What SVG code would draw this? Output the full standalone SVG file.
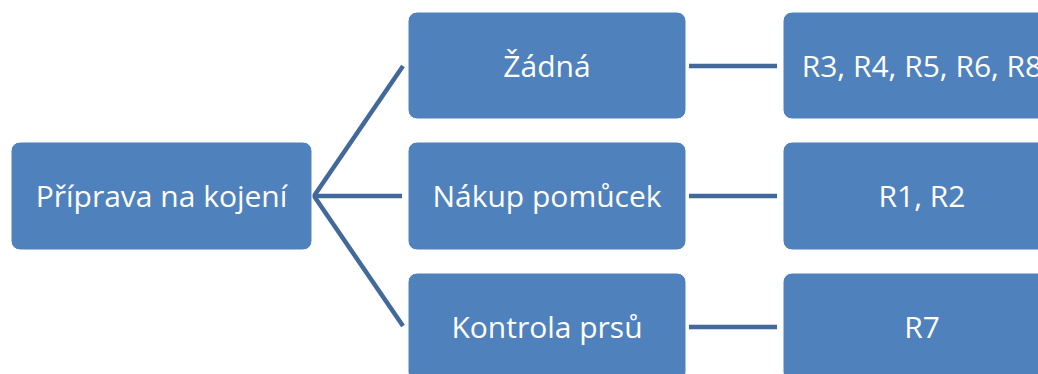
<svg xmlns="http://www.w3.org/2000/svg" width="1038" height="374" viewBox="0 0 1038 374">
  <style>
    .box { fill: #4F81BD; stroke: #FFFFFF; stroke-width: 1; }
    .lbl { fill: #FFFFFF; font-family: "Open Sans", "Noto Sans", "DejaVu Sans", sans-serif; font-size: 30px; text-anchor: middle; }
    .edge { stroke: #41699C; stroke-width: 4.5; fill: none; stroke-linecap: butt; }
  </style>
  <rect width="1038" height="374" fill="#FFFFFF"/>

  <!-- connectors -->
  <g id="connectors">
    <path class="edge" d="M403,66 L314,196 L403,326"/>
    <line class="edge" x1="314" y1="196" x2="402" y2="196"/>
    <line class="edge" x1="689" y1="66" x2="777" y2="66"/>
    <line class="edge" x1="689" y1="196" x2="777" y2="196"/>
    <line class="edge" x1="689" y1="327" x2="777" y2="327"/>
  </g>

  <!-- root -->
  <g id="root">
    <rect class="box" x="11" y="142" width="301" height="108" rx="9"/>
    <text class="lbl" x="161.5" y="207">Příprava na kojení</text>
  </g>

  <!-- second level -->
  <g id="zadna">
    <rect class="box" x="408" y="12" width="278" height="107" rx="9"/>
    <text class="lbl" x="547" y="77">Žádná</text>
  </g>
  <g id="nakup">
    <rect class="box" x="408" y="142" width="278" height="108" rx="9"/>
    <text class="lbl" x="547" y="207">Nákup pomůcek</text>
  </g>
  <g id="kontrola">
    <rect class="box" x="408" y="273" width="278" height="108" rx="9"/>
    <text class="lbl" x="547" y="338">Kontrola prsů</text>
  </g>

  <!-- third level -->
  <g id="r-zadna">
    <rect class="box" x="783" y="12" width="278" height="107" rx="9"/>
    <text class="lbl" x="922" y="77">R3, R4, R5, R6, R8</text>
  </g>
  <g id="r-nakup">
    <rect class="box" x="783" y="142" width="278" height="108" rx="9"/>
    <text class="lbl" x="922" y="207">R1, R2</text>
  </g>
  <g id="r-kontrola">
    <rect class="box" x="783" y="273" width="278" height="108" rx="9"/>
    <text class="lbl" x="922" y="338">R7</text>
  </g>
</svg>
